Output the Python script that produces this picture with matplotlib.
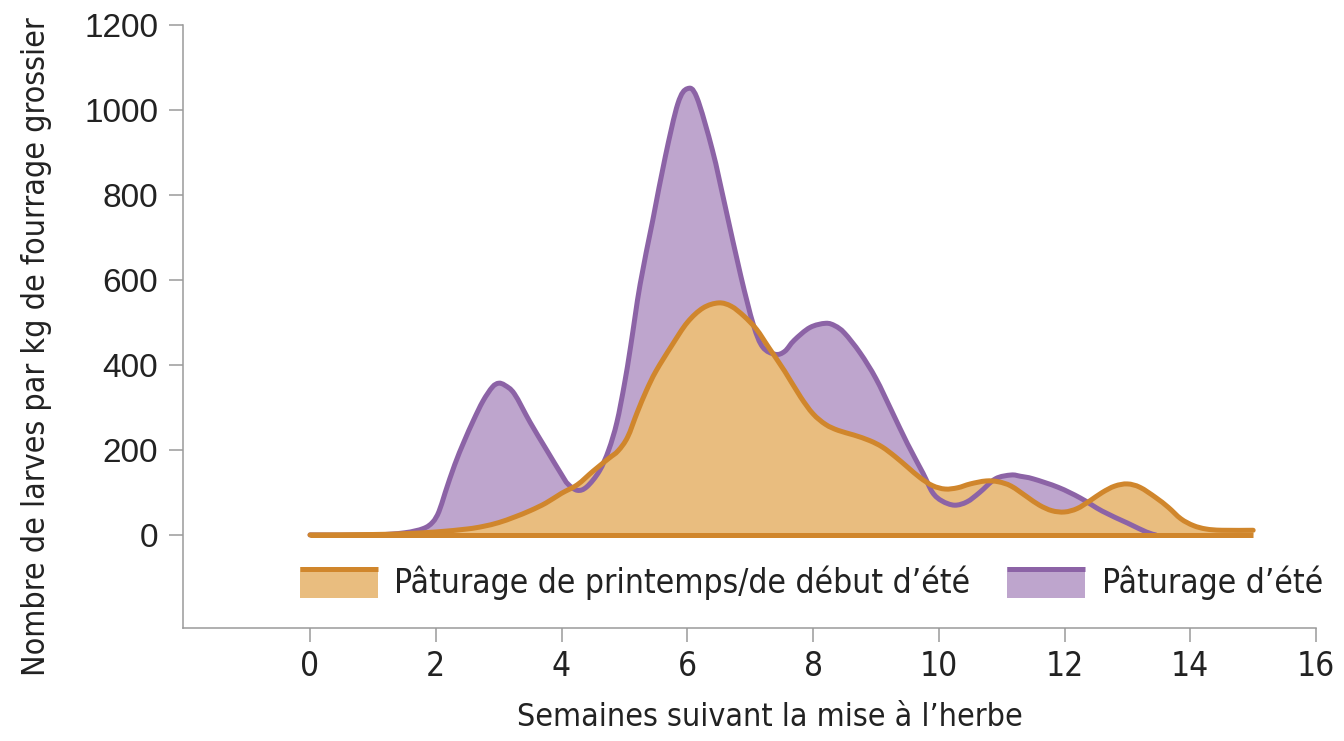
import matplotlib
matplotlib.use('Agg')
import matplotlib.pyplot as plt
from matplotlib import font_manager
from matplotlib.patches import Rectangle, PathPatch
from matplotlib.path import Path

# police étroite si disponible
fonts = font_manager.fontManager.ttflist
if any(f.name == 'DejaVu Sans' and f.stretch == 'condensed' for f in fonts):
    fam, stretch, k = ['DejaVu Sans'], 'condensed', 1.0
elif any(f.name == 'Liberation Sans Narrow' for f in fonts):
    fam, stretch, k = ['Liberation Sans Narrow'], 'normal', 1.0
else:
    fam, stretch, k = ['DejaVu Sans'], 'normal', 0.82


def tfont(size):
    return font_manager.FontProperties(family=fam, stretch=stretch, size=size * k)


# Pâturage de printemps/de début d'été
weeks_spring = [0.0, 1.0, 1.5, 2.0, 2.5, 2.75, 3.0, 3.25, 3.5, 3.75, 4.0, 4.25, 4.5, 4.75,
                4.9, 5.05, 5.2, 5.35, 5.5, 5.75, 6.0, 6.25, 6.5, 6.7, 6.9, 7.1, 7.3, 7.55,
                7.8, 8.0, 8.2, 8.4, 8.65, 8.9, 9.1, 9.3, 9.5, 9.7, 9.9, 10.1, 10.3, 10.5,
                10.75, 10.95, 11.15, 11.4, 11.6, 11.8, 12.0, 12.2, 12.4, 12.6, 12.8, 13.0,
                13.2, 13.45, 13.65, 13.85, 14.05, 14.25, 14.5, 15.0]
larvae_spring = [0, 1, 3, 7, 14, 20, 29, 42, 57, 75, 98, 118, 150, 180,
                 198, 230, 287, 340, 385, 445, 500, 534, 546, 538, 515, 484, 440, 385,
                 325, 285, 260, 246, 235, 222, 207, 185, 160, 135, 116, 108, 111, 120,
                 127, 125, 115, 90, 70, 57, 54, 62, 80, 100, 115, 120,
                 112, 88, 65, 38, 22, 14, 11, 11]

# Pâturage d'été
weeks_summer = [0.0, 1.0, 1.5, 1.8, 1.95, 2.05, 2.15, 2.3, 2.45, 2.6, 2.75, 2.9, 3.0, 3.1,
                3.25, 3.5, 3.75, 4.0, 4.1, 4.25, 4.4, 4.6, 4.75, 4.88, 5.0, 5.1, 5.25,
                5.45, 5.65, 5.85, 6.0, 6.15, 6.4, 6.6, 6.85, 7.05, 7.2, 7.4, 7.55, 7.7,
                7.95, 8.2, 8.35, 8.5, 8.75, 9.0, 9.25, 9.5, 9.75, 9.9, 10.05, 10.25,
                10.45, 10.65, 10.9, 11.15, 11.3, 11.5, 11.9, 12.25, 12.6, 13.0, 13.3, 13.45]
larvae_summer = [0, 0, 5, 15, 30, 55, 100, 165, 220, 270, 315, 348, 357, 352,
                 332, 265, 203, 142, 120, 105, 113, 150, 200, 265, 355, 445, 590,
                 740, 890, 1015, 1050, 1030, 905, 775, 610, 495, 442, 425, 432, 458,
                 488, 498, 492, 475, 428, 368, 292, 215, 145, 100, 80, 70,
                 78, 100, 132, 141, 138, 132, 112, 87, 56, 28, 7, 0]

label_spring = 'Pâturage de printemps/de début d\u2019été'
label_summer = 'Pâturage d\u2019été'

orange_line = '#D0862C'
orange_fill = '#E9BD7F'
purple_line = '#8C63A6'
purple_fill = '#BEA5CD'
axis_grey = '#9A9A9A'
text_col = '#222222'


def smooth_path(xs, ys, close=False):
    # courbe de Bézier passant par les points (Catmull-Rom)
    verts = [(xs[0], ys[0])]
    codes = [Path.MOVETO]
    n = len(xs)
    for i in range(n - 1):
        x0, y0 = (xs[i - 1], ys[i - 1]) if i > 0 else (xs[i], ys[i])
        x1, y1 = xs[i], ys[i]
        x2, y2 = xs[i + 1], ys[i + 1]
        x3, y3 = (xs[i + 2], ys[i + 2]) if i + 2 < n else (x2, y2)
        verts += [(x1 + (x2 - x0) / 6, y1 + (y2 - y0) / 6),
                  (x2 - (x3 - x1) / 6, y2 - (y3 - y1) / 6),
                  (x2, y2)]
        codes += [Path.CURVE4] * 3
    if close:
        verts += [(xs[-1], 0), (xs[0], 0), (xs[0], ys[0])]
        codes += [Path.LINETO, Path.LINETO, Path.CLOSEPOLY]
    return Path(verts, codes)


fig = plt.figure(figsize=(13.44, 7.41), dpi=100)
ax = fig.add_axes([0.1362, 0.1525, 0.843, 0.8138])

ax.add_patch(PathPatch(smooth_path(weeks_summer, larvae_summer, True),
                       facecolor=purple_fill, edgecolor='none', zorder=1))
ax.add_patch(PathPatch(smooth_path(weeks_spring, larvae_spring, True),
                       facecolor=orange_fill, edgecolor='none', zorder=2))
ax.add_patch(PathPatch(smooth_path(weeks_summer, larvae_summer), facecolor='none',
                       edgecolor=purple_line, lw=3.6, joinstyle='round', capstyle='round', zorder=3))
ax.add_patch(PathPatch(smooth_path(weeks_spring, larvae_spring), facecolor='none',
                       edgecolor=orange_line, lw=3.6, joinstyle='round', capstyle='round', zorder=4))
ax.plot([weeks_spring[0], weeks_spring[-1]], [0, 0], color=orange_line, lw=3.6,
        solid_capstyle='butt', zorder=4)

# légende dessinée à la main (patch avec trait en haut)
for x0, fill, line, lab in [(-0.16, orange_fill, orange_line, label_spring),
                            (11.09, purple_fill, purple_line, label_summer)]:
    ax.add_patch(Rectangle((x0, -148), 1.24, 73, facecolor=fill, edgecolor='none', zorder=5))
    ax.plot([x0, x0 + 1.24], [-80, -80], color=line, lw=3.6, solid_capstyle='butt', zorder=6)
    ax.text(x0 + 1.5, -112, lab, va='center', ha='left', color=text_col,
            fontproperties=tfont(24))

ax.set_xlim(-2.02, 16)
ax.set_ylim(-219, 1200)
ax.set_xticks(range(0, 17, 2))
ax.set_yticks(range(0, 1201, 200))

for s in ['top', 'right']:
    ax.spines[s].set_visible(False)
for s in ['left', 'bottom']:
    ax.spines[s].set_color(axis_grey)
    ax.spines[s].set_linewidth(1.1)

ax.tick_params(axis='both', direction='out', length=10, width=1.1, color=axis_grey,
               labelcolor=text_col)
ax.tick_params(axis='x', pad=6)
ax.tick_params(axis='y', pad=8)
for t in ax.get_xticklabels():
    t.set_fontproperties(tfont(24))
for t in ax.get_yticklabels():
    t.set_fontfamily(['Liberation Sans', 'DejaVu Sans'])
    t.set_fontsize(24)

ax.set_xlabel('Semaines suivant la mise à l\u2019herbe', color=text_col, va='center',
              fontproperties=tfont(23))
ax.xaxis.set_label_coords(0.518, -0.149)
ax.set_ylabel('Nombre de larves par kg de fourrage grossier', color=text_col,
              va='center', ha='center', fontproperties=tfont(23))
ax.yaxis.set_label_coords(-0.129, 0.466)

plt.savefig('out.png', dpi=100)
